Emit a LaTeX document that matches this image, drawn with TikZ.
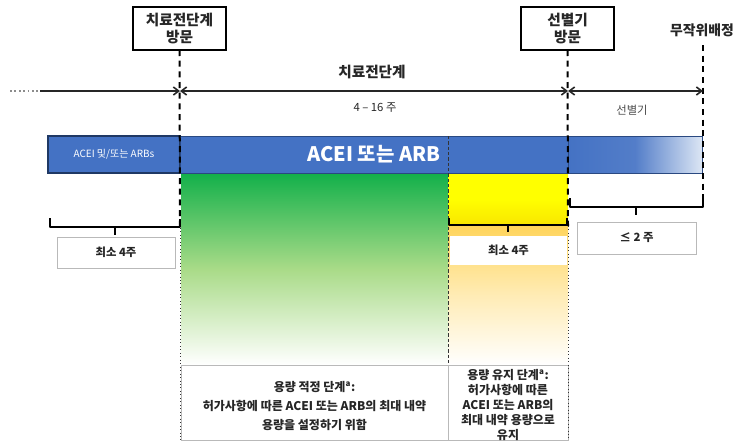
\documentclass[tikz,border=0pt]{standalone}
\usepackage{fontspec}
\setmainfont{Noto Sans CJK KR}
\usetikzlibrary{arrows.meta}
\definecolor{barblue}{HTML}{4472C4}
\definecolor{bardark}{HTML}{1F3864}
\definecolor{barlight}{HTML}{DCE6F4}
\definecolor{grtop}{HTML}{12B04A}
\definecolor{grmid}{HTML}{A9DB88}
\definecolor{ortop}{HTML}{FFD45A}
\definecolor{yelbot}{HTML}{F8E600}
\definecolor{txt}{HTML}{262626}
\tikzset{
  pxbox/.style 2 args={minimum width=#1*0.75pt, minimum height=#2*0.75pt, inner sep=0pt, outer sep=0pt},
  titlebox/.style={draw=black, line width=1.5pt, fill=white, align=center, text=txt,
    font=\bfseries\fontsize{11}{13}\selectfont},
  vdash/.style={line width=1.5pt, dash pattern=on 4.5pt off 3.5pt},
  thindash/.style={line width=0.6pt, dash pattern=on 2.5pt off 1.5pt, black!80},
  thindot/.style={line width=0.6pt, dotted, black!80},
  brk/.style={line width=1.6pt, line join=round},
  tl/.style={line width=1.3pt, black!85},
  lblbox/.style={draw=gray!55, line width=0.6pt, fill=white, text=txt,
    font=\bfseries\fontsize{8.5}{10}\selectfont},
  desc/.style={draw=gray!55, line width=0.6pt, fill=white, text=txt, align=center},
  tip/.style={-{Straight Barb[length=4pt,width=6pt,line width=1.2pt]}},
  dtip/.style={{Straight Barb[length=4pt,width=6pt,line width=1.2pt]}-{Straight Barb[length=4pt,width=6pt,line width=1.2pt]}},
}
\begin{document}
\begin{tikzpicture}[x=0.75pt,y=-0.75pt]
\useasboundingbox (0,0) rectangle (739,443);
% coloured regions
\node[pxbox={267}{192}, top color=grtop, bottom color=white, middle color=grmid] (green) at (314.5,269) {};
\node[pxbox={120}{140}, top color=ortop, bottom color=white, middle color=ortop!45!white] (orng) at (508,295) {};
\node[pxbox={120}{52}, top color=yellow, bottom color=yelbot, middle color=yellow] (yel) at (508,199) {};
% description boxes
\node[desc, pxbox={267}{75}] (txt1) at (314.5,402.5) {};
\node[desc, pxbox={120}{75}] (txt2) at (508,402.5) {};
\node[align=center, text=txt, font=\bfseries\fontsize{9}{14}\selectfont] (t1) at (314.5,406)
  {용량 적정 단계\textsuperscript{a}:\\허가사항에 따른 ACEI 또는 ARB의 최대 내약\\용량을 설정하기 위함};
\node[align=center, text=txt, font=\bfseries\fontsize{9}{11.3}\selectfont] (t2) at (508,405)
  {용량 유지 단계\textsuperscript{a}:\\허가사항에 따른\\ACEI 또는 ARB의\\최대 내약 용량으로\\유지};
% blue bar
\node[pxbox={132}{37}, fill=barblue, draw=bardark, line width=0.9pt, text=white,
  font=\fontsize{7.5}{9}\selectfont] (barL) at (114,154.5) {ACEI 및/또는 ARBs};
\node[pxbox={388}{37}, fill=barblue, draw=bardark!70!barblue, line width=0.6pt, text=white,
  font=\bfseries\fontsize{15}{17}\selectfont] (barM) at (374,154.5) {ACEI 또는 ARB};
\node[pxbox={134}{37}, left color=barblue, right color=barlight, middle color=barblue!92!white,
  draw=bardark!70!barblue, line width=0.6pt] (barR) at (635,154.5) {};
% title boxes
\node[titlebox, pxbox={93}{43}] (pre) at (179.5,28.5) {치료전단계\\방문};
\node[titlebox, pxbox={93}{43}] (sel) at (567.5,28.5) {선별기\\방문};
\node[text=txt, font=\bfseries\fontsize{10.4}{12}\selectfont] (rand) at (702,30) {무작위배정};
% coordinates for lines
\coordinate (a1) at (180,228);
\coordinate (a2) at (180,440);
\coordinate (b1) at (448,136);
\coordinate (b2) at (448,365);
\coordinate (c1) at (568,226);
\coordinate (c2) at (568,440);
\coordinate (d0) at (703,45);
\coordinate (d1) at (703,207);
% vertical lines
\draw[vdash] (pre.south) -- (a1);
\draw[thindot] (a1) -- (a2);
\draw[thindash] (b1) -- (b2);
\draw[vdash] (sel.south) -- (c1);
\draw[thindot] (c1) -- (c2);
\draw[vdash] (d0) -- (d1);
% timeline
\coordinate (t0) at (10,91);
\coordinate (t1) at (40,91);
\coordinate (tA) at (180,91);
\coordinate (tB) at (568,91);
\coordinate (tC) at (703,91);
\draw[tl, dotted, black!45] (t0) -- (t1);
\draw[tl, tip] (t1) -- (tA);
\draw[tl, dtip] (tA) -- (tB);
\draw[tl, dtip] (tB) -- (tC);
\node[text=txt, font=\bfseries\fontsize{11}{13}\selectfont] (ph1) at (372,72) {치료전단계};
\node[text=txt, font=\fontsize{8.5}{10}\selectfont] (dur1) at (375,108) {4 – 16 주};
\node[text=black!70, font=\fontsize{8.5}{10}\selectfont] (dur2) at (632,110) {선별기};
% brackets
\coordinate (L1) at (50,218); \coordinate (L2) at (50,227); \coordinate (L3) at (180,227); \coordinate (L4) at (180,219);
\coordinate (Lm) at (115,227); \coordinate (Ln) at (115,235);
\draw[brk] (L1) -- (L2) -- (L3) -- (L4);
\draw[brk] (Lm) -- (Ln);
\coordinate (Y1) at (449,218); \coordinate (Y2) at (449,225); \coordinate (Y3) at (567,225); \coordinate (Y4) at (567,218);
\coordinate (Ym) at (508,225); \coordinate (Yn) at (508,232);
\draw[brk] (Y1) -- (Y2) -- (Y3) -- (Y4);
\draw[brk] (Ym) -- (Yn);
\coordinate (R1) at (570,198); \coordinate (R2) at (570,207); \coordinate (R3) at (703,207); \coordinate (R4) at (703,198);
\coordinate (Rm) at (636,207); \coordinate (Rn) at (636,215);
\draw[brk] (R1) -- (R2) -- (R3) -- (R4);
\draw[brk] (Rm) -- (Rn);
% label boxes
\node[lblbox, pxbox={118}{31}] (min1) at (116,252.5) {최소 4주};
\node[lblbox, draw=none, pxbox={117}{29}] (min2) at (508.5,250.5) {최소 4주};
\node[lblbox, pxbox={119}{32}] (le2) at (636.5,238) {≤ 2 주};
\end{tikzpicture}
\end{document}
